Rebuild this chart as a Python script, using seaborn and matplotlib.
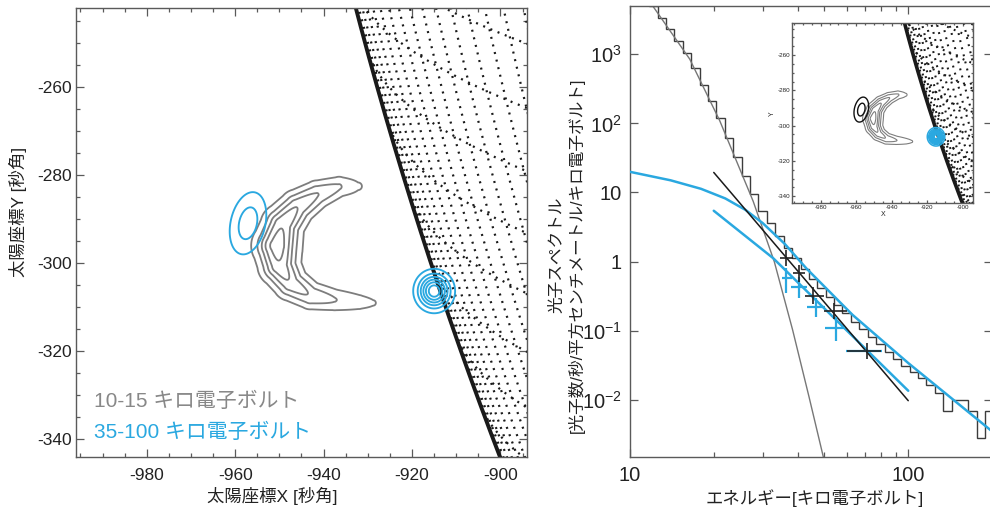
import numpy as np
import matplotlib
matplotlib.use("Agg")
import matplotlib.pyplot as plt
import seaborn as sns
from matplotlib.ticker import FixedLocator, MultipleLocator, FuncFormatter, NullFormatter

sns.set_theme(style="ticks")
plt.rcParams["font.family"] = ["Liberation Sans", "Noto Sans CJK JP", "DejaVu Sans"]
plt.rcParams["mathtext.default"] = "regular"
plt.rcParams["axes.unicode_minus"] = False

# ---------------- data: left map ----------------
map_xlim = [-996, -894]
map_ylim = [-344, -242]
map_xticks = [-980, -960, -940, -920, -900]
map_yticks = [-340, -320, -300, -280, -260]
sun_radius = 963.6          # arcsec
b0_deg = 7.0                # solar B0 angle of the grid
grid_lon = list(range(-100, -55))   # meridians (deg from central meridian)
grid_lat = list(range(-40, 1))      # parallels (deg)

# 10-15 keV source: ridge of the crescent (x, y, peak, width)
ridge_x = [-932.2, -936.5, -941.5, -946.0, -949.3, -950.5, -950.0, -947.5, -943.0, -937.5, -932.0, -928.8]
ridge_y = [-282.5, -282.6, -284.4, -287.3, -291.3, -296.0, -300.5, -304.5, -307.3, -308.3, -308.8, -309.0]
ridge_amp = [0.13, 0.30, 0.47, 0.64, 0.82, 1.00, 0.80, 0.60, 0.44, 0.29, 0.18, 0.12]
ridge_w = [1.5, 1.6, 1.9, 2.2, 2.5, 2.8, 2.5, 2.2, 1.9, 1.7, 1.6, 1.5]
gray_levels = [0.11, 0.28, 0.46, 0.64, 0.85]

# 35-100 keV sources (x, y, peak, sigma major, sigma minor, tilt deg)
blue_cx = [-957.1, -915.0]
blue_cy = [-290.9, -306.3]
blue_amp = [0.36, 1.0]
blue_smaj = [4.85, 2.45]
blue_smin = [2.65, 2.30]
blue_tilt = [12.5, 0.0]
blue_levels = [0.12, 0.27, 0.42, 0.57, 0.72, 0.87]

legend_labels = ["10-15 キロ電子ボルト", "35-100 キロ電子ボルト"]

# ---------------- data: right spectrum ----------------
energy_edges = [10.9, 11.7, 12.6, 13.5, 14.4, 15.5, 16.6, 17.8, 19.1, 20.4, 21.9, 23.5, 25.2,
                27.0, 28.9, 31.0, 33.3, 35.7, 38.2, 41.0, 43.9, 47.1, 50.5, 54.1, 58.0, 62.2,
                66.7, 71.5, 76.6, 82.2, 88.1, 94.4, 101.2, 108.5, 116.3, 124.6, 133.6, 143.2,
                153.6, 164.6, 176.3, 189.0, 202.6]
photon_flux = [7330, 4920, 3310, 2290, 1556, 1047, 638, 360, 210, 120, 61.4, 32.1, 17.3,
               9.46, 5.48, 3.57, 2.33, 1.57, 1.11, 0.79, 0.564, 0.414, 0.312, 0.236, 0.178,
               0.135, 0.105, 0.0815, 0.0632, 0.049, 0.039, 0.0312, 0.0249, 0.021, 0.0165,
               0.0125, 0.0068, 0.0098, 0.0098, 0.0068, 0.0028, 0.0068]
thermal_E = [12.1, 16.4, 21.0, 27.7, 33.0, 38.4, 44.0, 49.5, 51.0]
thermal_f = [4940, 850, 110, 7.5, 1.0, 0.103, 0.011, 0.0015, 0.0009]
fit_black_E = [20.0, 100.0]
fit_black_f = [19.5, 0.0097]
fit_blue_hi_E = [10, 14, 18, 22, 26, 30, 36, 43, 63, 100, 200]
fit_blue_hi_f = [19.9, 15.0, 11.3, 8.2, 5.6, 3.6, 1.8, 0.80, 0.17, 0.034, 0.0035]
fit_blue_lo_E = [20.0, 32.7, 100.0]
fit_blue_lo_f = [5.44, 1.12, 0.0135]

black_E = [36.5, 40.6, 45.6, 54.1, 70.9]
black_E_lo = [34.5, 38.5, 42.5, 50.0, 60.0]
black_E_hi = [38.5, 42.5, 50.0, 60.0, 80.0]
black_f = [1.12, 0.678, 0.322, 0.193, 0.051]
black_f_lo = [0.85, 0.51, 0.245, 0.146, 0.039]
black_f_hi = [1.48, 0.90, 0.425, 0.255, 0.067]

blue_E = [36.5, 40.6, 46.6, 55.0, 70.9]
blue_E_lo = [35.1, 37.9, 43.1, 50.2, 59.8]
blue_E_hi = [38.1, 43.1, 50.2, 59.3, 80.2]
blue_f = [0.574, 0.434, 0.223, 0.109, 0.050]
blue_f_lo = [0.35, 0.295, 0.160, 0.070, 0.050]
blue_f_hi = [0.80, 0.605, 0.295, 0.160, 0.050]

spec_xlim = [10, 200]
spec_ylim = [1.5e-3, 5e3]
spec_yticks = [1e-2, 1e-1, 1, 10, 100, 1000]
spec_xticks = [10, 100]

# ---------------- styles ----------------
GRAY = "#7d7d7d"
BLUE = "#2aa8e0"
SPINE = "#5a5a5a"
TXT = "#222222"

fig = plt.figure(figsize=(9.9, 5.08), dpi=100)
ax1 = fig.add_axes([76 / 990, (508 - 457) / 508, 451 / 990, 449 / 508])
ax2 = fig.add_axes([630 / 990, (508 - 456.7) / 508, 362 / 990, 450.7 / 508])
ax3 = fig.add_axes([792.3 / 990, (508 - 203.3) / 508, 181 / 990, 180 / 508])


def helio(lat, lon):
    R = sun_radius
    b0 = np.radians(b0_deg)
    la = np.radians(lat)
    lo = np.radians(lon)
    x = R * np.cos(la) * np.sin(lo)
    y = R * (np.sin(la) * np.cos(b0) - np.cos(la) * np.cos(lo) * np.sin(b0))
    z = np.sin(la) * np.sin(b0) + np.cos(la) * np.cos(lo) * np.cos(b0)
    x = np.where(z > 0, x, np.nan)
    y = np.where(z > 0, y, np.nan)
    return x, y


def ridge_field(X, Y):
    F = np.zeros_like(X)
    for i in range(len(ridge_x) - 1):
        x0, y0, x1, y1 = ridge_x[i], ridge_y[i], ridge_x[i + 1], ridge_y[i + 1]
        dx, dy = x1 - x0, y1 - y0
        t = np.clip(((X - x0) * dx + (Y - y0) * dy) / (dx * dx + dy * dy), 0, 1)
        d2 = (X - (x0 + t * dx)) ** 2 + (Y - (y0 + t * dy)) ** 2
        a = ridge_amp[i] + t * (ridge_amp[i + 1] - ridge_amp[i])
        w = ridge_w[i] + t * (ridge_w[i + 1] - ridge_w[i])
        F = np.maximum(F, a * np.exp(-d2 / (2 * w * w)))
    return F


def blob(X, Y, k):
    th = np.radians(blue_tilt[k])
    u = (X - blue_cx[k]) * np.sin(th) + (Y - blue_cy[k]) * np.cos(th)
    v = (X - blue_cx[k]) * np.cos(th) - (Y - blue_cy[k]) * np.sin(th)
    return blue_amp[k] * np.exp(-0.5 * ((u / blue_smaj[k]) ** 2 + (v / blue_smin[k]) ** 2))


gx = np.linspace(map_xlim[0], map_xlim[1], 500)
gy = np.linspace(map_ylim[0], map_ylim[1], 500)
GX, GY = np.meshgrid(gx, gy)
F_gray = ridge_field(GX, GY)
F_left = blob(GX, GY, 0)
F_foot = blob(GX, GY, 1)


def draw_grid(ax, lw, dash, limb_lw):
    lat_s = np.linspace(-60, 20, 3000)
    lon_s = np.linspace(-110, -40, 3000)
    for lon in grid_lon:
        x, y = helio(lat_s, lon)
        ax.plot(x, y, color="k", lw=lw, ls=(0, dash), zorder=1)
    for lat in grid_lat:
        x, y = helio(lat, lon_s)
        ax.plot(x, y, color="k", lw=lw, ls=(0, dash), zorder=1)
    t = np.radians(np.linspace(185, 215, 800))
    ax.plot(sun_radius * np.cos(t), sun_radius * np.sin(t), color="k", lw=limb_lw, zorder=2)


def style_map(ax, tl, major_len, minor_len, xpad, ypad):
    ax.set_xlim(map_xlim)
    ax.set_ylim(map_ylim)
    ax.xaxis.set_major_locator(FixedLocator(map_xticks))
    ax.yaxis.set_major_locator(FixedLocator(map_yticks))
    ax.xaxis.set_minor_locator(MultipleLocator(5))
    ax.yaxis.set_minor_locator(MultipleLocator(5))
    ax.tick_params(which="both", direction="in", top=True, right=True, colors=SPINE,
                   labelcolor=TXT, labelsize=tl, width=0.9)
    ax.tick_params(which="major", length=major_len)
    ax.tick_params(which="minor", length=minor_len)
    ax.tick_params(axis="x", which="major", pad=xpad)
    ax.tick_params(axis="y", which="major", pad=ypad)
    for s in ax.spines.values():
        s.set_color(SPINE)
        s.set_linewidth(1.0)
    ax.set_facecolor("white")


# ---------- left map ----------
draw_grid(ax1, 1.6, (0.9, 2.6), 2.8)
ax1.contour(GX, GY, F_gray, levels=gray_levels, colors=GRAY, linewidths=1.3, zorder=3)
ax1.contour(GX, GY, F_left + F_foot, levels=blue_levels, colors=BLUE, linewidths=1.35, zorder=4)
style_map(ax1, 12.5, 6, 3, 8, 3)
ax1.set_xlabel("太陽座標X [秒角]", fontsize=12.5, color=TXT)
ax1.set_ylabel("太陽座標Y [秒角]", fontsize=12.5, color=TXT)
ax1.xaxis.set_label_coords((272 - 76) / 451, -0.067)
ax1.yaxis.set_label_coords(-0.108, (457 - 212) / 449)
ax1.text(-991.9, -331.4, legend_labels[0], color="#888888", fontsize=15, va="center", ha="left")
ax1.text(-991.9, -338.3, legend_labels[1], color=BLUE, fontsize=15, va="center", ha="left")

# ---------- right spectrum ----------
ax2.set_xscale("log")
ax2.set_yscale("log")
ax2.stairs(photon_flux, energy_edges, baseline=None, color="#3c3c3c", lw=1.0, zorder=2)
sns.lineplot(x=thermal_E, y=thermal_f, ax=ax2, color="#777777", lw=1.0, sort=False,
             estimator=None, legend=False, zorder=2)
sns.lineplot(x=fit_blue_hi_E, y=fit_blue_hi_f, ax=ax2, color=BLUE, lw=1.8, sort=False,
             estimator=None, legend=False, zorder=3)
sns.lineplot(x=fit_blue_lo_E, y=fit_blue_lo_f, ax=ax2, color=BLUE, lw=1.8, sort=False,
             estimator=None, legend=False, zorder=3)
sns.lineplot(x=fit_black_E, y=fit_black_f, ax=ax2, color="#1a1a1a", lw=1.1, sort=False,
             estimator=None, legend=False, zorder=4)
bE = np.array(blue_E); bf = np.array(blue_f)
ax2.errorbar(bE, bf, xerr=[bE - np.array(blue_E_lo), np.array(blue_E_hi) - bE],
             yerr=[bf - np.array(blue_f_lo), np.array(blue_f_hi) - bf],
             fmt="none", ecolor=BLUE, elinewidth=1.6, capsize=0, zorder=5)
kE = np.array(black_E); kf = np.array(black_f)
ax2.errorbar(kE, kf, xerr=[kE - np.array(black_E_lo), np.array(black_E_hi) - kE],
             yerr=[kf - np.array(black_f_lo), np.array(black_f_hi) - kf],
             fmt="none", ecolor="#222222", elinewidth=1.2, capsize=0, zorder=6)
ax2.set_xlim(spec_xlim)
ax2.set_ylim(spec_ylim)


def yfmt(v, pos):
    e = int(round(np.log10(v)))
    if e == 0:
        return "1"
    if e == 1:
        return "10"
    return r"$\mathregular{10^{%d}}$" % e


ax2.yaxis.set_major_locator(FixedLocator(spec_yticks))
ax2.yaxis.set_major_formatter(FuncFormatter(yfmt))
ax2.yaxis.set_minor_locator(FixedLocator([]))
ax2.xaxis.set_major_locator(FixedLocator(spec_xticks))
ax2.xaxis.set_major_formatter(FuncFormatter(lambda v, p: "%d" % v))
ax2.xaxis.set_minor_locator(FixedLocator([20, 30, 40, 50, 60, 70, 80, 90, 200]))
ax2.xaxis.set_minor_formatter(NullFormatter())
ax2.tick_params(which="both", direction="in", top=True, right=True, colors=SPINE,
                labelcolor=TXT, labelsize=14.5, width=0.9)
ax2.tick_params(which="major", length=6)
ax2.tick_params(axis="x", which="major", pad=7)
ax2.tick_params(axis="y", which="major", pad=6)
ax2.tick_params(which="minor", length=3.5)
for s in ax2.spines.values():
    s.set_color(SPINE)
    s.set_linewidth(1.0)
ax2.set_xlabel("エネルギー[キロ電子ボルト]", fontsize=12.5, color=TXT)
ax2.set_ylabel("光子スペクトル\n[光子数/秒/平方センチメートル/キロ電子ボルト]", fontsize=12,
               color=TXT, linespacing=1.25)
ax2.xaxis.set_label_coords(0.51, -0.072)
ax2.yaxis.set_label_coords(-0.125, (456.7 - 255) / 450.7)

# ---------- inset ----------
draw_grid(ax3, 1.5, (0.9, 2.6), 2.6)
ax3.contour(GX, GY, F_gray, levels=gray_levels, colors=GRAY, linewidths=0.8, zorder=3)
ax3.contour(GX, GY, F_left, levels=[0.12, 0.27], colors="#111111", linewidths=1.0, zorder=4)
ax3.contour(GX, GY, F_foot, levels=[0.1, 0.2, 0.3, 0.4, 0.5, 0.6, 0.7, 0.8, 0.9],
            colors=BLUE, linewidths=1.1, zorder=4)
style_map(ax3, 4.5, 2.5, 1.3, 1.5, 1.5)
ax3.set_xlabel("X", fontsize=5, color=TXT, labelpad=0.5)
ax3.set_ylabel("Y", fontsize=5, color=TXT, labelpad=1)

fig.savefig("out.png", dpi=100)
